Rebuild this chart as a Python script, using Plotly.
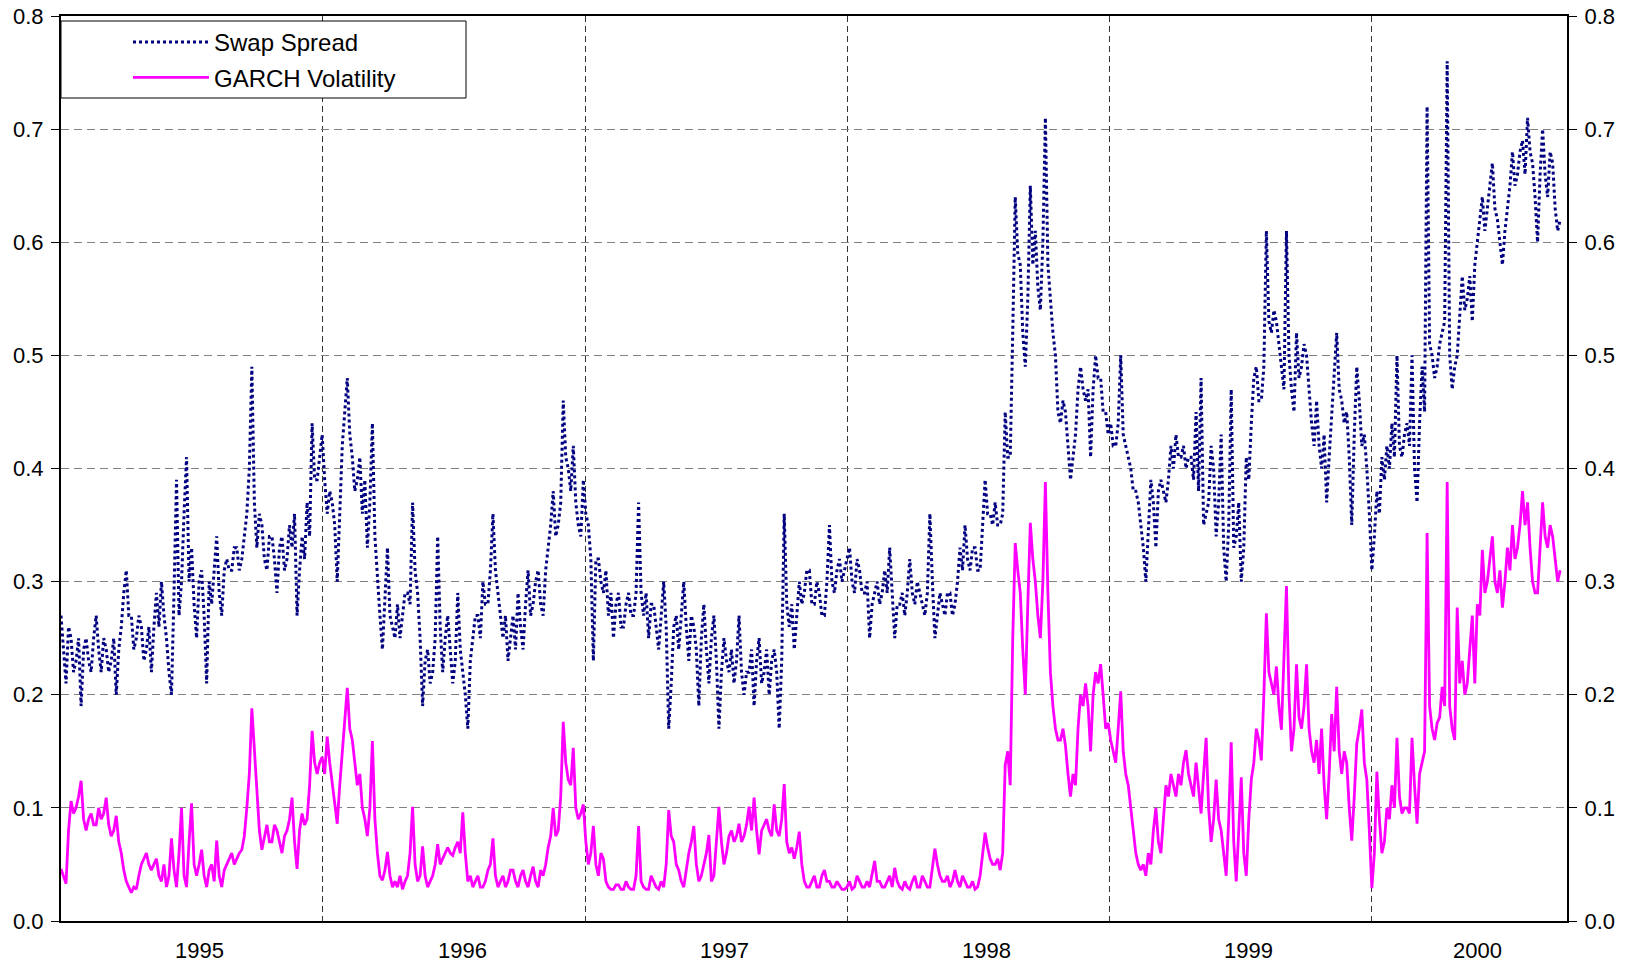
import pandas as pd
import plotly.graph_objects as go

# ---------------- data (readings: one value per week plus a mid-week value) ----
start_date = "1995-01-01"
end_date = "2000-09-30"
year_labels = ["1995", "1996", "1997", "1998", "1999", "2000"]
year_bounds = ["1996-01-01", "1997-01-01", "1998-01-01", "1999-01-01", "2000-01-01"]

swap_1995 = [0.27, 0.21, 0.25, 0.23, 0.19, 0.25, 0.22, 0.27, 0.22, 0.24,
             0.23, 0.20, 0.26, 0.31, 0.27, 0.25, 0.26, 0.24, 0.22, 0.29,
             0.30, 0.25, 0.20, 0.39, 0.30, 0.41, 0.33, 0.25, 0.31, 0.21,
             0.28, 0.34, 0.27, 0.32, 0.31, 0.33, 0.32, 0.36, 0.49, 0.33,
             0.35, 0.31, 0.34, 0.29, 0.34, 0.32, 0.33, 0.27, 0.34, 0.37,
             0.44, 0.39]
swap_1996 = [0.43, 0.36, 0.37, 0.30, 0.42, 0.48, 0.41, 0.39, 0.36, 0.33,
             0.44, 0.30, 0.24, 0.33, 0.26, 0.28, 0.27, 0.29, 0.37, 0.29,
             0.19, 0.24, 0.22, 0.34, 0.22, 0.27, 0.21, 0.29, 0.22, 0.17,
             0.25, 0.27, 0.30, 0.28, 0.36, 0.29, 0.25, 0.23, 0.27, 0.29,
             0.24, 0.31, 0.28, 0.31, 0.27, 0.33, 0.38, 0.35, 0.46, 0.40,
             0.42, 0.35]
swap_1997 = [0.39, 0.35, 0.23, 0.32, 0.29, 0.27, 0.25, 0.29, 0.26, 0.29,
             0.27, 0.37, 0.27, 0.25, 0.28, 0.24, 0.30, 0.17, 0.26, 0.24,
             0.30, 0.23, 0.26, 0.19, 0.28, 0.21, 0.27, 0.17, 0.25, 0.22,
             0.21, 0.27, 0.20, 0.22, 0.19, 0.25, 0.22, 0.20, 0.24, 0.17,
             0.36, 0.26, 0.24, 0.30, 0.29, 0.31, 0.28, 0.29, 0.27, 0.35,
             0.29, 0.32]
swap_1998 = [0.31, 0.33, 0.29, 0.31, 0.29, 0.25, 0.29, 0.28, 0.31, 0.33,
             0.25, 0.28, 0.27, 0.32, 0.28, 0.29, 0.27, 0.36, 0.25, 0.29,
             0.27, 0.29, 0.28, 0.33, 0.35, 0.31, 0.33, 0.31, 0.39, 0.36,
             0.37, 0.35, 0.45, 0.41, 0.64, 0.58, 0.49, 0.65, 0.61, 0.54,
             0.71, 0.55, 0.50, 0.44, 0.45, 0.39, 0.43, 0.49, 0.46, 0.41,
             0.50, 0.48]
swap_1999 = [0.45, 0.44, 0.42, 0.50, 0.42, 0.40, 0.38, 0.35, 0.30, 0.39,
             0.33, 0.39, 0.37, 0.42, 0.43, 0.41, 0.40, 0.41, 0.45, 0.48,
             0.36, 0.42, 0.34, 0.43, 0.30, 0.47, 0.34, 0.30, 0.41, 0.44,
             0.49, 0.46, 0.61, 0.52, 0.53, 0.49, 0.61, 0.47, 0.52, 0.49,
             0.50, 0.44, 0.46, 0.40, 0.37, 0.45, 0.52, 0.46, 0.45, 0.35,
             0.49, 0.42]
swap_2000 = [0.40, 0.31, 0.38, 0.41, 0.42, 0.44, 0.50, 0.41, 0.44, 0.50,
             0.37, 0.49, 0.72, 0.50, 0.49, 0.52, 0.76, 0.47, 0.50, 0.57,
             0.55, 0.53, 0.60, 0.64, 0.63, 0.67, 0.62, 0.58, 0.63, 0.68,
             0.66, 0.69, 0.71, 0.67, 0.60, 0.70, 0.64, 0.67, 0.61]

swap_mid_1995 = [0.24, 0.26, 0.22, 0.25, 0.24, 0.23, 0.25, 0.24, 0.25, 0.22,
                 0.25, 0.24, 0.29, 0.27, 0.24, 0.27, 0.23, 0.26, 0.26, 0.26,
                 0.27, 0.22, 0.29, 0.27, 0.36, 0.30, 0.28, 0.30, 0.27, 0.30,
                 0.31, 0.29, 0.31, 0.31, 0.33, 0.31, 0.34, 0.40, 0.37, 0.36,
                 0.32, 0.34, 0.32, 0.33, 0.31, 0.35, 0.36, 0.31, 0.32, 0.34,
                 0.39, 0.41]
swap_mid_1996 = [0.39, 0.38, 0.35, 0.36, 0.45, 0.43, 0.38, 0.41, 0.39, 0.37,
                 0.34, 0.27, 0.29, 0.27, 0.25, 0.25, 0.29, 0.28, 0.31, 0.25,
                 0.23, 0.21, 0.25, 0.26, 0.25, 0.24, 0.23, 0.24, 0.20, 0.23,
                 0.27, 0.25, 0.28, 0.31, 0.31, 0.27, 0.27, 0.25, 0.24, 0.26,
                 0.28, 0.27, 0.30, 0.28, 0.31, 0.35, 0.34, 0.37, 0.41, 0.38,
                 0.37, 0.34]
swap_mid_1997 = [0.36, 0.32, 0.32, 0.30, 0.31, 0.29, 0.28, 0.26, 0.28, 0.27,
                 0.29, 0.29, 0.29, 0.28, 0.26, 0.27, 0.26, 0.21, 0.27, 0.27,
                 0.26, 0.27, 0.24, 0.25, 0.24, 0.25, 0.23, 0.22, 0.23, 0.24,
                 0.23, 0.22, 0.22, 0.24, 0.23, 0.21, 0.24, 0.23, 0.22, 0.23,
                 0.28, 0.28, 0.27, 0.28, 0.31, 0.28, 0.30, 0.27, 0.30, 0.30,
                 0.31, 0.30]
swap_mid_1998 = [0.32, 0.30, 0.32, 0.29, 0.30, 0.28, 0.30, 0.29, 0.29, 0.29,
                 0.28, 0.29, 0.29, 0.29, 0.30, 0.28, 0.29, 0.30, 0.27, 0.28,
                 0.29, 0.27, 0.30, 0.31, 0.32, 0.33, 0.31, 0.35, 0.36, 0.35,
                 0.35, 0.36, 0.41, 0.52, 0.59, 0.52, 0.55, 0.58, 0.56, 0.60,
                 0.58, 0.52, 0.45, 0.46, 0.42, 0.41, 0.47, 0.47, 0.47, 0.47,
                 0.48, 0.45]
swap_mid_1999 = [0.43, 0.42, 0.44, 0.43, 0.41, 0.38, 0.37, 0.33, 0.34, 0.37,
                 0.38, 0.38, 0.39, 0.40, 0.41, 0.42, 0.41, 0.39, 0.38, 0.35,
                 0.37, 0.40, 0.37, 0.33, 0.35, 0.33, 0.37, 0.33, 0.39, 0.48,
                 0.46, 0.49, 0.53, 0.54, 0.51, 0.47, 0.50, 0.45, 0.48, 0.51,
                 0.47, 0.42, 0.42, 0.43, 0.41, 0.48, 0.47, 0.44, 0.41, 0.43,
                 0.46, 0.43]
swap_mid_2000 = [0.36, 0.34, 0.36, 0.39, 0.40, 0.41, 0.42, 0.43, 0.42, 0.40,
                 0.44, 0.45, 0.51, 0.48, 0.51, 0.53, 0.50, 0.49, 0.54, 0.54,
                 0.57, 0.58, 0.62, 0.61, 0.65, 0.63, 0.60, 0.61, 0.65, 0.65,
                 0.68, 0.66, 0.68, 0.64, 0.66, 0.66, 0.68, 0.63, 0.62]

garch_1995 = [0.046, 0.033, 0.106, 0.10, 0.124, 0.08, 0.095, 0.085, 0.09, 0.109,
              0.075, 0.093, 0.06, 0.035, 0.025, 0.028, 0.05, 0.06, 0.045, 0.055,
              0.035, 0.03, 0.073, 0.03, 0.10, 0.03, 0.104, 0.04, 0.063, 0.03,
              0.05, 0.071, 0.03, 0.05, 0.06, 0.055, 0.063, 0.10, 0.188, 0.113,
              0.063, 0.085, 0.07, 0.08, 0.06, 0.08, 0.109, 0.046, 0.095, 0.09,
              0.168, 0.13]
garch_1996 = [0.145, 0.163, 0.12, 0.086, 0.15, 0.206, 0.16, 0.12, 0.10, 0.075,
              0.159, 0.06, 0.036, 0.061, 0.03, 0.03, 0.028, 0.04, 0.101, 0.035,
              0.066, 0.03, 0.04, 0.068, 0.055, 0.065, 0.058, 0.07, 0.096, 0.035,
              0.03, 0.04, 0.03, 0.045, 0.073, 0.03, 0.04, 0.035, 0.045, 0.03,
              0.045, 0.03, 0.048, 0.03, 0.04, 0.065, 0.10, 0.08, 0.176, 0.125,
              0.153, 0.09]
garch_1997 = [0.103, 0.05, 0.084, 0.04, 0.055, 0.03, 0.028, 0.032, 0.028, 0.03,
              0.028, 0.084, 0.03, 0.028, 0.035, 0.028, 0.03, 0.098, 0.07, 0.045,
              0.03, 0.06, 0.084, 0.035, 0.05, 0.076, 0.04, 0.101, 0.05, 0.075,
              0.07, 0.086, 0.075, 0.101, 0.109, 0.059, 0.085, 0.08, 0.103, 0.075,
              0.121, 0.06, 0.055, 0.079, 0.035, 0.03, 0.04, 0.03, 0.045, 0.035,
              0.03, 0.032]
garch_1998 = [0.028, 0.035, 0.03, 0.035, 0.03, 0.03, 0.053, 0.035, 0.03, 0.04,
              0.047, 0.03, 0.035, 0.028, 0.04, 0.03, 0.035, 0.03, 0.064, 0.04,
              0.035, 0.03, 0.045, 0.03, 0.035, 0.03, 0.028, 0.04, 0.078, 0.055,
              0.05, 0.045, 0.138, 0.12, 0.334, 0.29, 0.20, 0.352, 0.30, 0.25,
              0.388, 0.22, 0.17, 0.16, 0.155, 0.11, 0.12, 0.20, 0.21, 0.15,
              0.22, 0.227]
garch_1999 = [0.17, 0.16, 0.14, 0.203, 0.13, 0.10, 0.06, 0.045, 0.04, 0.05,
              0.10, 0.06, 0.12, 0.13, 0.11, 0.12, 0.151, 0.12, 0.14, 0.095,
              0.162, 0.07, 0.125, 0.08, 0.04, 0.158, 0.035, 0.127, 0.04, 0.125,
              0.17, 0.142, 0.272, 0.21, 0.225, 0.169, 0.296, 0.15, 0.227, 0.17,
              0.227, 0.15, 0.16, 0.17, 0.09, 0.183, 0.207, 0.13, 0.14, 0.071,
              0.157, 0.187]
garch_2000 = [0.125, 0.029, 0.132, 0.06, 0.10, 0.12, 0.162, 0.095, 0.10, 0.162,
              0.086, 0.14, 0.343, 0.17, 0.175, 0.207, 0.388, 0.17, 0.277, 0.23,
              0.21, 0.27, 0.28, 0.328, 0.30, 0.34, 0.29, 0.277, 0.33, 0.35,
              0.33, 0.38, 0.37, 0.30, 0.29, 0.37, 0.33, 0.34, 0.30]

garch_mid_1995 = [0.04, 0.08, 0.095, 0.11, 0.09, 0.09, 0.085, 0.10, 0.095, 0.085,
                  0.08, 0.07, 0.045, 0.03, 0.03, 0.04, 0.055, 0.05, 0.05, 0.04,
                  0.05, 0.04, 0.045, 0.06, 0.04, 0.07, 0.05, 0.05, 0.04, 0.045,
                  0.035, 0.04, 0.045, 0.055, 0.05, 0.06, 0.075, 0.13, 0.15, 0.08,
                  0.075, 0.07, 0.085, 0.07, 0.075, 0.09, 0.07, 0.08, 0.085, 0.12,
                  0.14, 0.14]
garch_mid_1996 = [0.13, 0.14, 0.10, 0.12, 0.18, 0.17, 0.14, 0.13, 0.09, 0.10,
                  0.09, 0.04, 0.045, 0.04, 0.035, 0.04, 0.035, 0.06, 0.05, 0.04,
                  0.04, 0.035, 0.05, 0.05, 0.06, 0.06, 0.065, 0.06, 0.06, 0.04,
                  0.035, 0.03, 0.035, 0.05, 0.04, 0.035, 0.03, 0.045, 0.035, 0.04,
                  0.035, 0.04, 0.035, 0.045, 0.05, 0.075, 0.075, 0.11, 0.14, 0.12,
                  0.10, 0.095]
garch_mid_1997 = [0.07, 0.06, 0.05, 0.06, 0.035, 0.028, 0.032, 0.028, 0.035, 0.028,
                  0.04, 0.035, 0.028, 0.04, 0.03, 0.035, 0.05, 0.075, 0.05, 0.035,
                  0.045, 0.07, 0.05, 0.04, 0.06, 0.035, 0.07, 0.07, 0.06, 0.08,
                  0.075, 0.07, 0.085, 0.08, 0.08, 0.08, 0.09, 0.075, 0.08, 0.09,
                  0.07, 0.065, 0.065, 0.05, 0.03, 0.035, 0.03, 0.04, 0.035, 0.03,
                  0.035, 0.028]
garch_mid_1998 = [0.03, 0.028, 0.04, 0.03, 0.035, 0.04, 0.035, 0.03, 0.035, 0.03,
                  0.035, 0.028, 0.03, 0.035, 0.03, 0.04, 0.03, 0.045, 0.05, 0.035,
                  0.04, 0.035, 0.035, 0.04, 0.03, 0.035, 0.03, 0.06, 0.065, 0.05,
                  0.055, 0.06, 0.15, 0.25, 0.31, 0.24, 0.28, 0.32, 0.27, 0.30,
                  0.29, 0.19, 0.16, 0.17, 0.13, 0.13, 0.17, 0.19, 0.19, 0.20,
                  0.21, 0.20]
garch_mid_1999 = [0.175, 0.15, 0.17, 0.15, 0.12, 0.08, 0.05, 0.05, 0.06, 0.08,
                  0.07, 0.09, 0.11, 0.12, 0.13, 0.14, 0.13, 0.11, 0.12, 0.13,
                  0.10, 0.09, 0.09, 0.06, 0.09, 0.07, 0.08, 0.06, 0.09, 0.14,
                  0.16, 0.20, 0.22, 0.20, 0.19, 0.24, 0.20, 0.17, 0.18, 0.19,
                  0.17, 0.14, 0.13, 0.12, 0.13, 0.15, 0.15, 0.15, 0.10, 0.11,
                  0.17, 0.14]
garch_mid_2000 = [0.08, 0.06, 0.09, 0.07, 0.09, 0.10, 0.11, 0.10, 0.095, 0.12,
                  0.13, 0.15, 0.19, 0.16, 0.18, 0.19, 0.19, 0.16, 0.21, 0.20,
                  0.24, 0.21, 0.27, 0.29, 0.32, 0.30, 0.31, 0.30, 0.31, 0.32,
                  0.35, 0.35, 0.33, 0.29, 0.33, 0.34, 0.35, 0.32, 0.31]

swap_wk = swap_1995 + swap_1996 + swap_1997 + swap_1998 + swap_1999 + swap_2000
swap_mid = (swap_mid_1995 + swap_mid_1996 + swap_mid_1997 + swap_mid_1998
            + swap_mid_1999 + swap_mid_2000)
garch_wk = garch_1995 + garch_1996 + garch_1997 + garch_1998 + garch_1999 + garch_2000
garch_mid = (garch_mid_1995 + garch_mid_1996 + garch_mid_1997 + garch_mid_1998
             + garch_mid_1999 + garch_mid_2000)

wk_dates = pd.date_range(start_date, periods=len(swap_wk), freq="7D")
dates, swap, garch = [], [], []
for d, s, sm, g, gm in zip(wk_dates, swap_wk, swap_mid, garch_wk, garch_mid):
    dates += [d, d + pd.Timedelta(hours=84)]
    swap += [s, sm]
    garch += [g, gm]

# ---------------- figure ----------------
W, H = 1630, 966
ML, MR, MT, MB = 61, 63, 16, 45
PW, PH = W - ML - MR, H - MT - MB
FONT = "Liberation Sans, Arial, sans-serif"


def px_x(p):
    return (p - ML) / PW


def px_y(p):
    return 1 - (p - MT) / PH


fig = go.Figure()
fig.add_trace(go.Scatter(
    x=dates, y=swap, name="Swap Spread", mode="lines", legendgroup="a",
    line=dict(color="#000080", width=3, dash="3px,3px"), yaxis="y"))
fig.add_trace(go.Scatter(
    x=dates, y=garch, name="GARCH Volatility", mode="lines", legendgroup="b",
    line=dict(color="#FF00FF", width=2.8), yaxis="y2"))

yax = dict(range=[0, 0.8], tick0=0, dtick=0.1, tickformat=".1f",
           ticks="outside", ticklen=8, tickwidth=1, tickcolor="black",
           ticklabelstandoff=3, automargin=False,
           showline=True, linewidth=2, linecolor="black", zeroline=False,
           tickfont=dict(family=FONT, size=22, color="black"))

# year labels centred in each visible year segment
x0, x1 = pd.Timestamp(start_date), pd.Timestamp(end_date)
annotations = []
for lab in year_labels:
    ys = max(pd.Timestamp(f"{lab}-01-01"), x0)
    ye = min(pd.Timestamp(f"{int(lab) + 1}-01-01"), x1)
    mid = ys + (ye - ys) / 2
    annotations.append(dict(x=mid, y=0, xref="x", yref="paper", text=lab,
                            showarrow=False, yanchor="middle", yshift=-29, xshift=8,
                            font=dict(family=FONT, size=22, color="black")))

fig.update_layout(
    template="none",
    width=W, height=H,
    margin=dict(l=ML, r=MR, t=MT, b=MB, pad=0, autoexpand=False),
    paper_bgcolor="white", plot_bgcolor="white",
    font=dict(family=FONT, color="black"),
    xaxis=dict(type="date", range=[start_date, end_date], automargin=False,
               tickvals=year_bounds, showticklabels=False, ticks="",
               showgrid=True, gridcolor="#333333", gridwidth=1, griddash="6px,4px",
               showline=True, linewidth=2, linecolor="black", mirror=True,
               zeroline=False),
    yaxis=dict(**yax, side="left", showgrid=True, gridcolor="#808080",
               gridwidth=1, griddash="8px,5px"),
    yaxis2=dict(**yax, side="right", overlaying="y", showgrid=False),
    showlegend=True,
    legend=dict(x=px_x(128), y=px_y(20), xanchor="left", yanchor="top",
                bgcolor="rgba(0,0,0,0)", borderwidth=0, itemwidth=76,
                tracegroupgap=1, traceorder="grouped",
                font=dict(family=FONT, size=24, color="black")),
    shapes=[dict(type="rect", xref="paper", yref="paper",
                 x0=px_x(ML), x1=px_x(466), y0=px_y(98), y1=px_y(21),
                 line=dict(color="black", width=1), fillcolor="white",
                 layer="above")],
    annotations=annotations,
)

fig.write_html(
    "out.html",
    config={"displayModeBar": False},
    post_script="document.body.style.margin='0';document.body.style.padding='0';"
                "document.body.style.overflow='hidden';",
)
